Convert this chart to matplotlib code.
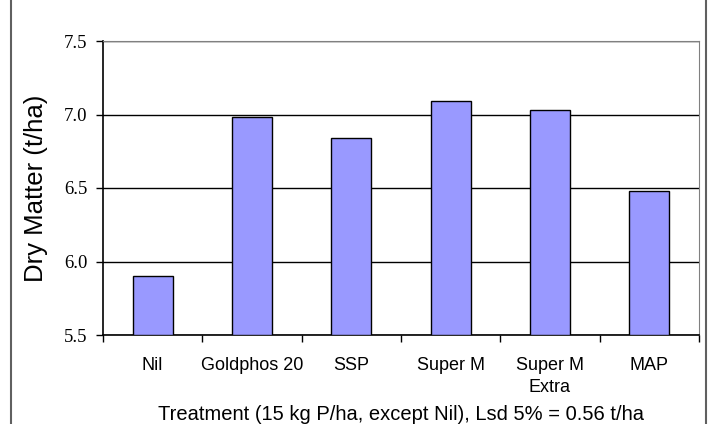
import matplotlib
matplotlib.use("Agg")
import matplotlib.pyplot as plt
from matplotlib.lines import Line2D

# Dry matter by fertiliser treatment
treatments = ["Nil", "Goldphos 20", "SSP", "Super M", "Super M\nExtra", "MAP"]
dry_matter = [5.90, 6.98, 6.84, 7.09, 7.03, 6.48]
y_ticks = [5.5, 6.0, 6.5, 7.0, 7.5]

fig = plt.figure(figsize=(7.12, 4.24), dpi=100)
ax = fig.add_axes([103 / 712, 1 - 335 / 424, 596 / 712, 294 / 424])

x = list(range(len(treatments)))
ax.bar(x, [v - 5.5 for v in dry_matter], bottom=5.5, width=0.4,
       color="#9999ff", edgecolor="black", linewidth=1.0, zorder=3)

ax.set_ylim(5.5, 7.5)
ax.set_xlim(-0.5, len(treatments) - 0.5)
ax.set_yticks(y_ticks)
ax.set_yticklabels([f"{v:.1f}" for v in y_ticks], family="Liberation Serif", fontsize=13.5)
ax.yaxis.grid(True, color="black", linewidth=1.0, zorder=0)

# category labels between boundary ticks
ax.set_xticks([i - 0.5 for i in range(len(treatments) + 1)])
ax.set_xticklabels([])
ax.set_xticks(x, minor=True)
ax.set_xticklabels(treatments, minor=True, family="Liberation Sans", fontsize=13,
                   linespacing=1.35, va="top")
ax.tick_params(axis="x", which="minor", length=0, pad=16)
ax.tick_params(axis="x", which="major", length=5, width=1.0, direction="out")
ax.tick_params(axis="y", length=5, width=1.0, direction="out", pad=6)

ax.set_ylabel("Dry Matter (t/ha)", family="Liberation Sans", fontsize=18.5, labelpad=12)
fig.text(401 / 712, 4 / 424, "Treatment (15 kg P/ha, except Nil), Lsd 5% = 0.56 t/ha",
         family="Liberation Sans", fontsize=14.5, ha="center", va="baseline")

for side in ["top", "right"]:
    ax.spines[side].set_color("#808080")
for side in ["left", "bottom"]:
    ax.spines[side].set_color("black")
    ax.spines[side].set_linewidth(1.2)

# outer chart frame
fig.add_artist(Line2D([11 / 712, 11 / 712], [0, 1], color="#606060", linewidth=1.5))
fig.add_artist(Line2D([706 / 712, 706 / 712], [0, 1], color="#606060", linewidth=1.5))

fig.savefig("out.png", dpi=100)
